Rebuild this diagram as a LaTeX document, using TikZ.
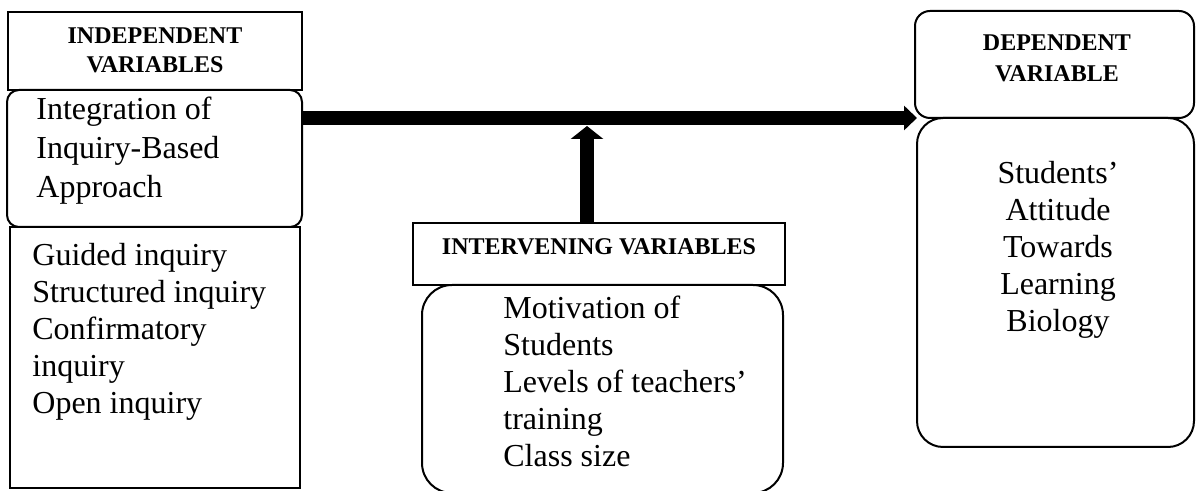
\documentclass[tikz,border=0pt]{standalone}
\usepackage{fontspec}
\setmainfont{Liberation Serif}
\usetikzlibrary{arrows.meta}
\tikzset{
  box/.style={draw, line width=1pt, inner sep=0pt, outer sep=0pt, anchor=north west},
  roundbox/.style={box, rounded corners=#1},
  title/.style={font=\fontsize{12}{14.5}\selectfont\bfseries, inner sep=0pt, align=center, anchor=base},
  item/.style={font=\fontsize{16}{18.5}\selectfont, inner sep=0pt, align=left, anchor=base west},
  itemc/.style={font=\fontsize{16}{18.5}\selectfont, inner sep=0pt, align=center, anchor=base},
  bigarrow/.style={line width=7pt, -{Triangle[length=6.5pt,width=#1]}}
}
\begin{document}
\begin{tikzpicture}[x=0.5pt, y=-0.5pt]
  \useasboundingbox (0,0) rectangle (1196,491);

  \node[box, minimum width=147pt, minimum height=39pt] (indhead) at (8,12) {};
  \node[roundbox=6pt, minimum width=147.5pt, minimum height=68.5pt] (indmain) at (7,90) {};
  \node[box, minimum width=145pt, minimum height=130.5pt] (indlist) at (10,227) {};
  \node[title] (indtitle) at (155,73) {INDEPENDENT\\VARIABLES};
  \node[item] (indtext) at (36,198) {Integration of\\[1pt]Inquiry-Based\\[1pt]Approach};
  \node[item] (indtypes) at (32,414) {Guided inquiry\\Structured inquiry\\Confirmatory\\inquiry\\Open inquiry};

  \node[box, minimum width=186pt, minimum height=31pt] (inthead) at (413,223) {};
  \node[roundbox=15pt, minimum width=180.5pt, minimum height=104pt] (intlist) at (422,285) {};
  \node[title] (inttitle) at (599,255) {INTERVENING VARIABLES};
  \node[item] (inttext) at (503,467) {Motivation of\\Students\\Levels of teachers’\\training\\Class size};

  \node[roundbox=7.5pt, minimum width=139.5pt, minimum height=53.5pt] (dephead) at (915,11) {};
  \node[roundbox=13pt, minimum width=138.5pt, minimum height=164.5pt] (depbody) at (917,118) {};
  \node[title] (deptitle) at (1057,82) {DEPENDENT\\[1pt]VARIABLE};
  \node[itemc] (deptext) at (1058,332) {Students’\\Attitude\\Towards\\Learning\\Biology};

  \coordinate (join) at (587,126);
  \draw[bigarrow=12pt] (indmain.east |- depbody.north west) -- (depbody.north west);
  \draw[bigarrow=16pt] (inthead.north -| join) -- (join);
\end{tikzpicture}
\end{document}
